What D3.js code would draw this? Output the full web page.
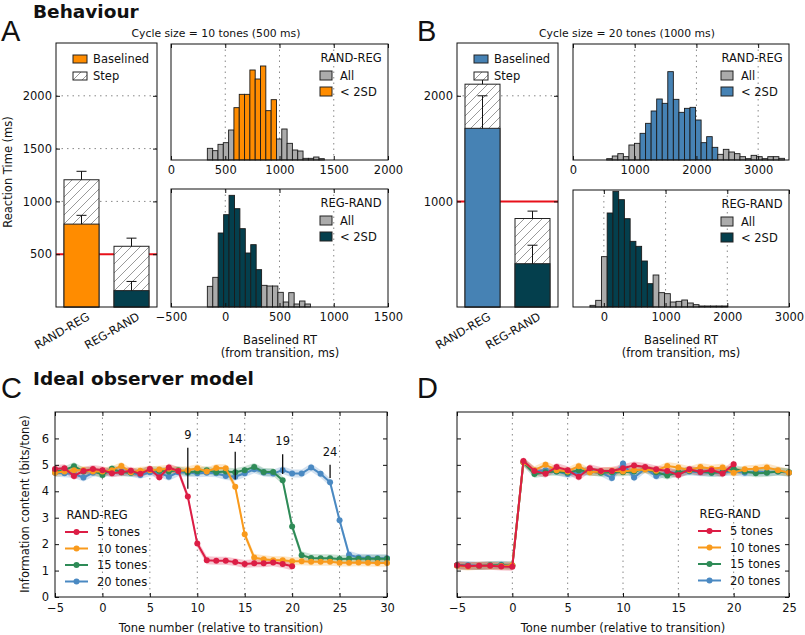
<!DOCTYPE html>
<html><head><meta charset="utf-8">
<script src="https://cdn.jsdelivr.net/npm/d3@7"></script>
<style>body{margin:0;background:#fff}svg{font-family:"DejaVu Sans",sans-serif}</style>
</head><body><svg id="c" width="805" height="635"></svg>
<script>
// ---------------- DATA ----------------
const barCats = ["RAND-REG", "REG-RAND"];
const barA_total = [1205, 575];
const barA_totalErr = [1285, 652];
const barA_base = [785, 155];
const barA_baseErr = [868, 242];
const barA_ref = 500;
const barB_total = [2110, 838];
const barB_totalErr = [2168, 908];
const barB_base = [1692, 410];
const barB_baseErr = [2000, 585];
const barB_ref = 1000;
const barTicksA = [500, 1000, 1500, 2000];
const barTicksB = [1000, 2000];

const histA1_start = 335, histA1_width = 49;
const histA1_counts = [35,28,47,52,90,157,197,197,270,243,282,148,181,63,93,50,30,27,5,5,9,0,0,4];
const histA1_sd = [5, 12];
const histA2_start = -165, histA2_width = 50;
const histA2_counts = [62,89,222,277,335,295,235,162,187,112,65,63,63,44,15,43,9,18,0,9];
const histA2_sd = [2, 9];
const histB1_start = 546, histB1_width = 90;
const histB1_counts = [4,12,19,10,45,50,80,110,147,183,170,265,182,143,155,158,120,52,70,38,17,32,24,19,10,4,0,14,10,4,10,10,5];
const histB1_sd = [6, 19];
const histB2_start = -225, histB2_width = 93;
const histB2_counts = [5,20,151,282,347,322,265,197,182,138,70,96,43,40,15,17,21,12,7,3,3,3,3,0,0,0,0,0,3];
const histB2_sd = [3, 10];
const histTicksA1 = [0, 500, 1000, 1500, 2000];
const histTicksA2 = [-500, 0, 500, 1000, 1500];
const histTicksB = [0, 1000, 2000, 3000];
const histTicksB2 = [0, 1000, 2000, 3000];

const seriesNames = ["5 tones", "10 tones", "15 tones", "20 tones"];
const C_start = -5;
const C_red =    [4.84,4.87,4.58,4.77,4.84,4.80,4.68,4.72,4.78,4.66,4.84,4.53,4.90,4.77,3.80,2.02,1.39,1.37,1.37,1.32,1.25,1.28,1.28,1.31,1.25,1.16];
const C_orange = [4.70,4.75,4.80,4.80,4.75,4.75,4.80,4.96,4.72,4.78,4.80,4.82,4.85,4.78,4.80,4.87,4.75,4.88,4.87,4.17,2.37,1.49,1.43,1.39,1.39,1.35,1.35,1.33,1.33,1.33,1.30,1.30,1.31,1.30,1.29,1.29];
const C_green =  [4.75,4.80,4.95,4.75,4.78,4.62,4.85,4.72,4.70,4.72,4.80,4.78,4.75,4.80,4.72,4.75,4.80,4.72,4.75,4.72,4.80,4.92,4.73,4.73,4.42,2.67,1.58,1.48,1.47,1.47,1.44,1.45,1.45,1.45,1.45,1.45];
const C_blue =   [4.70,4.68,4.65,4.52,4.70,4.72,4.70,4.75,4.70,4.62,4.72,4.70,4.55,4.72,4.70,4.68,4.70,4.68,4.58,4.55,4.68,4.83,4.71,4.67,4.80,4.67,4.67,4.90,4.66,4.34,2.90,1.60,1.49,1.48,1.47,1.47];
const C_annoX = [9, 14, 19, 24];
const C_annoTop = [5.65, 5.5, 5.4, 5.0];
const C_annoBot = [4.1, 4.45, 4.65, 4.5];

const D_start = -5;
const D_red =    [1.20,1.17,1.18,1.18,1.15,1.14,5.15,4.77,4.66,4.92,4.80,4.55,4.87,4.77,4.77,4.87,4.98,4.92,4.83,4.77,4.62,4.83,4.73,4.80,4.67,5.02];
const D_orange = [1.18,1.15,1.18,1.18,1.17,1.20,5.10,4.80,5.00,4.80,4.75,4.95,4.72,4.75,4.78,4.75,4.80,4.82,4.78,4.96,4.90,4.80,4.92,4.85,4.90,4.70,4.83,4.85,4.90,4.80,4.70];
const D_green =  [1.20,1.18,1.17,1.20,1.20,1.18,5.10,4.65,4.72,4.75,4.70,4.80,4.75,4.70,4.72,4.72,4.75,4.85,4.72,4.60,4.72,4.78,4.75,4.70,4.72,4.85,4.75,4.68,4.70,4.75,4.72];
const D_blue =   [1.20,1.20,1.18,1.20,1.22,1.20,5.10,4.75,4.80,4.75,4.65,4.72,4.75,4.72,4.50,5.05,4.52,4.85,4.58,4.72,4.70,4.75,4.72,4.70,4.72,4.75,4.70,4.75,4.72,4.75,4.70];
const lineTicksY = [0,1,2,3,4,5,6];
const C_ticksX = [-5,0,5,10,15,20,25,30];
const D_ticksX = [-5,0,5,10,15,20,25];

// ---------------- STYLE ----------------
const COL = {orange:"#ff8c00", teal:"#043f4d", blue:"#4682b4", gray:"#ababab", red:"#e8101a"};
const LCOL = ["#dc1d45", "#f99a1c", "#2e8b57", "#4a89c2"];

const svg = d3.select("#c");
const defs = svg.append("defs");
const pat = defs.append("pattern").attr("id","hatch").attr("patternUnits","userSpaceOnUse")
  .attr("width",9).attr("height",9);
pat.append("rect").attr("width",9).attr("height",9).attr("fill","#fff");
pat.append("path").attr("d","M-1,10 L10,-1 M-1,1 L1,-1 M8,10 L10,8").attr("stroke","#808080").attr("stroke-width",0.8);

function txt(g, x, y, s, o={}) {
  const t = g.append("text").attr("x",x).attr("y",y).text(s)
    .attr("font-size", o.size||11.5).attr("fill","#111");
  if (o.anchor) t.attr("text-anchor", o.anchor);
  if (o.weight) t.attr("font-weight", o.weight);
  if (o.family) t.attr("font-family", o.family);
  if (o.rot) t.attr("transform", `rotate(${o.rot},${x},${y})`);
  return t;
}
function frame(g, w, h) {
  g.append("rect").attr("width",w).attr("height",h).attr("fill","none").attr("stroke","#111").attr("stroke-width",1);
}
function styleAxis(a){ a.select(".domain").remove(); a.selectAll("line").attr("stroke","#111"); a.selectAll("text").attr("font-size",11.5).attr("fill","#111").attr("font-family","DejaVu Sans"); }

// ---------------- BAR PANELS ----------------
function barPanel(x0, y0, w, h, total, totalErr, base, baseErr, ref, ticks, fills, grid) {
  const g = svg.append("g").attr("transform",`translate(${x0},${y0})`);
  const y = d3.scaleLinear().domain([0,2500]).range([h,0]);
  const x = d3.scaleBand().domain(barCats).range([0,w]).paddingInner(0.3).paddingOuter(0.16);
  g.selectAll(".grid").data(grid).enter().append("line")
    .attr("x1",0).attr("x2",w).attr("y1",d=>y(d)).attr("y2",d=>y(d))
    .attr("stroke","#888").attr("stroke-dasharray","1.5,4");
  g.append("line").attr("x1",0).attr("x2",w).attr("y1",y(ref)).attr("y2",y(ref)).attr("stroke",COL.red).attr("stroke-width",2);
  g.selectAll(".tot").data(barCats).enter().append("rect")
    .attr("x",d=>x(d)).attr("width",x.bandwidth())
    .attr("y",(d,i)=>y(total[i])).attr("height",(d,i)=>y(0)-y(total[i]))
    .attr("fill","url(#hatch)").attr("stroke","#222");
  g.selectAll(".base").data(barCats).enter().append("rect")
    .attr("x",d=>x(d)).attr("width",x.bandwidth())
    .attr("y",(d,i)=>y(base[i])).attr("height",(d,i)=>y(0)-y(base[i]))
    .attr("fill",(d,i)=>fills[i]).attr("stroke","#222");
  const err = (vals, errs) => barCats.forEach((c,i)=>{
    const cx = x(c)+x.bandwidth()/2;
    g.append("line").attr("x1",cx).attr("x2",cx).attr("y1",y(vals[i])).attr("y2",y(errs[i])).attr("stroke","#111");
    g.append("line").attr("x1",cx-5).attr("x2",cx+5).attr("y1",y(errs[i])).attr("y2",y(errs[i])).attr("stroke","#111");
  });
  err(total,totalErr); err(base,baseErr);
  const ax = g.append("g").call(d3.axisLeft(y).tickValues(ticks).tickSize(-4).tickPadding(4).tickFormat(d3.format("d")));
  styleAxis(ax);
  const ax2 = g.append("g").attr("transform",`translate(${w},0)`).call(d3.axisRight(y).tickValues(ticks).tickSize(-4).tickFormat(""));
  styleAxis(ax2);
  frame(g,w,h);
  barCats.forEach((c,i)=>{
    const cx = x(c)+x.bandwidth()/2 + 9;
    txt(g, cx, h+12, c, {anchor:"end", rot:-30});
  });
  g.append("rect").attr("x",17).attr("y",12).attr("width",14).attr("height",8).attr("fill",fills[0]).attr("stroke","#222");
  g.append("rect").attr("x",17).attr("y",29).attr("width",14).attr("height",8).attr("fill","url(#hatch)").attr("stroke","#222");
  txt(g, 37, 20, "Baselined");
  txt(g, 37, 37, "Step");
  return g;
}
barPanel(56, 43, 101, 264, barA_total, barA_totalErr, barA_base, barA_baseErr, barA_ref, barTicksA, [COL.orange, COL.teal], [1000,1500,2000]);
barPanel(457, 43, 101, 264, barB_total, barB_totalErr, barB_base, barB_baseErr, barB_ref, barTicksB, [COL.blue, COL.teal], [2000]);

// ---------------- HISTOGRAMS ----------------
function hist(x0, y0, w, h, dom, ticks, start, width, counts, sd, col, title, ymax) {
  const g = svg.append("g").attr("transform",`translate(${x0},${y0})`);
  const x = d3.scaleLinear().domain(dom).range([0,w]);
  const y = d3.scaleLinear().domain([0,ymax]).range([h,0]);
  g.selectAll(".grid").data(ticks.filter(t=>t>dom[0] && t<dom[1])).enter().append("line")
    .attr("x1",d=>x(d)).attr("x2",d=>x(d)).attr("y1",0).attr("y2",h)
    .attr("stroke","#888").attr("stroke-dasharray","1.5,4");
  g.selectAll(".bar").data(counts).enter().append("rect")
    .filter(d=>d>0)
    .attr("x",(d,i)=>x(start+i*width))
    .attr("width",(d,i)=>Math.max(0, Math.min(x(start+(i+1)*width), w) - x(start+i*width)))
    .attr("y",d=>y(d)).attr("height",d=>h-y(d))
    .attr("fill",(d,i)=> (i>=sd[0] && i<=sd[1]) ? col : COL.gray)
    .attr("stroke","#1a1a1a").attr("stroke-width",0.9);
  const ax = g.append("g").attr("transform",`translate(0,${h})`).call(d3.axisBottom(x).tickValues(ticks).tickSize(-4).tickPadding(6).tickFormat(d=> d<0 ? "\u2212"+Math.abs(d) : d));
  styleAxis(ax);
  const ax2 = g.append("g").call(d3.axisTop(x).tickValues(ticks).tickSize(-4).tickFormat(""));
  styleAxis(ax2);
  frame(g,w,h);
  txt(g, w-37, 18, title, {anchor:"middle"});
  g.append("rect").attr("x",w-68).attr("y",27).attr("width",12).attr("height",9).attr("fill",COL.gray).attr("stroke","#222");
  g.append("rect").attr("x",w-68).attr("y",43).attr("width",12).attr("height",9).attr("fill",col).attr("stroke","#222");
  txt(g, w-48, 36, "All");
  txt(g, w-48, 52, "< 2SD");
  return g;
}
hist(171, 44, 217, 116, [0,2000], histTicksA1, histA1_start, histA1_width, histA1_counts, histA1_sd, COL.orange, "RAND-REG", 348);
hist(171, 189, 217, 118, [-500,1500], histTicksA2, histA2_start, histA2_width, histA2_counts, histA2_sd, COL.teal, "REG-RAND", 354);
hist(573, 44, 216, 116, [0,3500], histTicksB, histB1_start, histB1_width, histB1_counts, histB1_sd, COL.blue, "RAND-REG", 348);
hist(573, 190, 216, 117, [-500,3000], histTicksB2, histB2_start, histB2_width, histB2_counts, histB2_sd, COL.teal, "REG-RAND", 351);

txt(svg, 280, 344, "Baselined RT", {anchor:"middle"});
txt(svg, 280, 357, "(from transition, ms)", {anchor:"middle"});
txt(svg, 681, 344, "Baselined RT", {anchor:"middle"});
txt(svg, 681, 357, "(from transition, ms)", {anchor:"middle"});

// ---------------- LINE PANELS ----------------
function linePanel(x0, y0, w, h, dom, ticksX, start, series, legendTitle, lx, ly, showY) {
  const g = svg.append("g").attr("transform",`translate(${x0},${y0})`);
  const x = d3.scaleLinear().domain(dom).range([0,w]);
  const y = d3.scaleLinear().domain([0,7]).range([h,0]);
  g.selectAll(".grid").data(ticksX.filter(t=>t>dom[0] && t<dom[1])).enter().append("line")
    .attr("x1",d=>x(d)).attr("x2",d=>x(d)).attr("y1",0).attr("y2",h)
    .attr("stroke","#888").attr("stroke-dasharray","1.5,4");
  const order = [3,2,1,0];
  order.forEach(k=>{
    const vals = series[k];
    const area = d3.area().x((d,i)=>x(start+i)).y0(d=>y(d-0.15)).y1(d=>y(d+0.15));
    g.append("path").datum(vals).attr("d",area).attr("fill",LCOL[k]).attr("opacity",0.25);
  });
  order.forEach(k=>{
    const vals = series[k];
    const line = d3.line().x((d,i)=>x(start+i)).y(d=>y(d));
    g.append("path").datum(vals).attr("d",line).attr("fill","none").attr("stroke",LCOL[k]).attr("stroke-width",2);
    g.selectAll(null).data(vals).enter().append("circle")
      .attr("cx",(d,i)=>x(start+i)).attr("cy",d=>y(d)).attr("r",3).attr("fill",LCOL[k]);
  });
  const ax = g.append("g").call(d3.axisLeft(y).tickValues(lineTicksY).tickSize(-4).tickPadding(6).tickFormat(showY? d3.format("d") : ""));
  styleAxis(ax);
  const ax2 = g.append("g").attr("transform",`translate(${w},0)`).call(d3.axisRight(y).tickValues(lineTicksY).tickSize(-4).tickFormat(""));
  styleAxis(ax2);
  const ax3 = g.append("g").attr("transform",`translate(0,${h})`).call(d3.axisBottom(x).tickValues(ticksX).tickSize(-4).tickPadding(7).tickFormat(d3.format("d")));
  styleAxis(ax3);
  const ax4 = g.append("g").call(d3.axisTop(x).tickValues(ticksX).tickSize(-4).tickFormat(""));
  styleAxis(ax4);
  frame(g,w,h);
  txt(g, lx+42, ly, legendTitle, {anchor:"middle"});
  seriesNames.forEach((s,i)=>{
    const yy = ly + 13 + i*16.5;
    g.append("line").attr("x1",lx+10).attr("x2",lx+33).attr("y1",yy).attr("y2",yy).attr("stroke",LCOL[i]).attr("stroke-width",2);
    g.append("circle").attr("cx",lx+21.5).attr("cy",yy).attr("r",3).attr("fill",LCOL[i]);
    txt(g, lx+42, yy+4, s);
  });
  return {g,x,y};
}
const pc = linePanel(55, 412, 332, 185, [-5,30], C_ticksX, C_start, [C_red, C_orange, C_green, C_blue], "RAND-REG", 0, 107, true);
C_annoX.forEach((v,i)=>{
  pc.g.append("line").attr("x1",pc.x(v)).attr("x2",pc.x(v)).attr("y1",pc.y(C_annoTop[i])).attr("y2",pc.y(C_annoBot[i])).attr("stroke","#111").attr("stroke-width",1.3);
  txt(pc.g, pc.x(v), pc.y(C_annoTop[i])-9, String(v), {anchor:"middle"});
});
linePanel(457, 412, 332, 185, [-5,25], D_ticksX, D_start, [D_red, D_orange, D_green, D_blue], "REG-RAND", 231, 106, false);

txt(svg, 221, 632, "Tone number (relative to transition)", {anchor:"middle"});
txt(svg, 623, 632, "Tone number (relative to transition)", {anchor:"middle"});
txt(svg, 29, 504, "Information content (bits/tone)", {anchor:"middle", rot:-90});
txt(svg, 12, 172, "Reaction Time (ms)", {anchor:"middle", rot:-90});

// ---------------- TITLES ----------------
txt(svg, 33, 18, "Behaviour", {size:18.5, weight:"bold"});
txt(svg, 33, 385, "Ideal observer model", {size:18.5, weight:"bold"});
txt(svg, 1, 41, "A", {size:29, family:"Liberation Sans"});
txt(svg, 417, 41, "B", {size:29, family:"Liberation Sans"});
txt(svg, 1, 398, "C", {size:29, family:"Liberation Sans"});
txt(svg, 417, 398, "D", {size:29, family:"Liberation Sans"});
txt(svg, 216, 37, "Cycle size = 10 tones (500 ms)", {anchor:"middle", size:10.8});
txt(svg, 627, 37, "Cycle size = 20 tones (1000 ms)", {anchor:"middle", size:10.8});
</script></body></html>
